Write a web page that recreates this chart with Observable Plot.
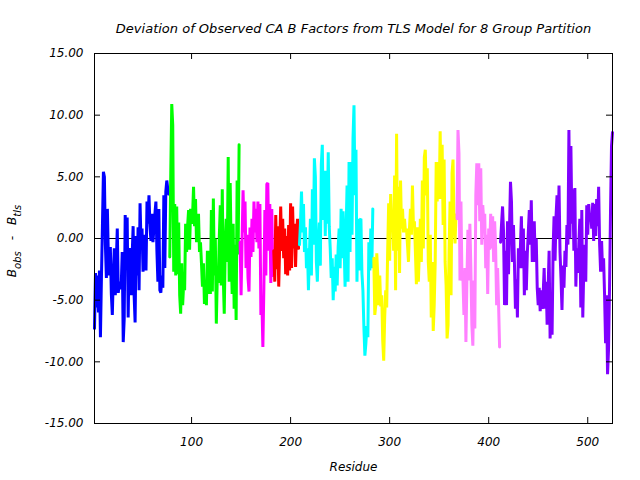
<!DOCTYPE html>
<html><head><meta charset="utf-8">
<script src="https://cdn.jsdelivr.net/npm/d3@7"></script>
<script src="https://cdn.jsdelivr.net/npm/@observablehq/plot@0.6"></script>
<style>body{margin:0;background:#fff}</style>
</head><body><div id="chart"></div>
<script>
const title = "Deviation of Observed CA B Factors from TLS Model for 8 Group Partition";
const xLabel = "Residue";
const xTicks = [100, 200, 300, 400, 500];
const yTicks = [-15, -10, -5, 0, 5, 10, 15];
const groupNames = ["G1", "G2", "G3", "G4", "G5", "G6", "G7", "G8"];
const groupColors = ["#0000ff", "#00ff00", "#ff00ff", "#ff0000", "#00ffff", "#ffff00", "#ff80ff", "#8000ff"];
const groupStarts = [2, 78, 149, 183, 209, 284, 368, 412];

const group1 = [-7.3,-2.8,-5.6,-3.0,-6.0,-2.6,-8.0,-3.2,1.0,5.4,
 5.0,-0.5,-3.2,2.4,-1.5,-3.0,-0.7,-4.5,-6.2,-3.0,
 -0.8,-4.6,-2.0,0.8,-4.4,-3.5,-4.1,-3.8,-1.1,-8.4,
 -6.5,1.9,-2.0,1.7,-6.4,-1.0,-0.8,-4.6,-1.5,1.0,
 -4.6,-6.8,0.2,-3.0,0.9,-4.2,2.85,-0.5,0.8,-2.7,
 -0.2,0.3,-2.6,3.0,1.2,3.5,1.0,-0.2,2.0,-0.3,
 0.8,2.0,3.0,-1.0,-3.5,2.4,-4.2,-4.4,-3.0,-4.0,
 3.5,-2.4,3.8,4.7,4.0,3.6];
const group2 = [-1.5,5.3,10.9,9.2,-2.7,2.8,-3.0,2.6,-2.9,1.3,
 -4.6,-6.1,-2.0,-5.4,-3.7,-4.2,1.2,-1.1,1.0,2.3,
 -0.9,2.4,1.2,1.8,4.2,1.0,3.2,-0.3,1.5,2.0,
 -1.1,-0.3,-2.0,-3.9,-2.0,-5.3,-3.8,-5.4,-1.0,-4.5,
 -1.0,-4.5,2.3,-4.3,3.25,-3.0,0.0,-6.9,-3.0,-3.6,
 0.1,2.7,-3.8,4.0,-3.1,-6.1,-0.5,1.6,-1.9,6.6,
 -3.5,4.5,-1.1,-4.5,1.2,-5.7,-0.5,-6.6,4.7,-1.3,
 7.6];
const group3 = [-0.3,-4.6,-0.2,3.9,0.5,3.0,-2.4,0.3,-3.2,-4.3,
 0.9,-1.5,1.6,-1.1,3.0,0.5,2.4,-0.3,3.0,-0.8,
 2.8,-6.2,-5.0,-8.8,-4.0,2.3,-3.0,4.4,4.5,-1.0,
 2.8,-3.6,2.4,-3.0];
const group4 = [-1.0,-3.5,1.9,-2.5,1.0,-3.9,-0.5,2.6,-1.0,1.6,
 -1.6,0.8,-2.9,0.2,-3.0,1.1,-2.6,2.85,-2.4,2.6,
 -0.8,1.2,-2.3,0.5,1.6,-0.8];
const group5 = [-0.5,1.3,3.8,0.5,2.8,-1.1,0.9,-2.4,-0.8,-4.2,
 -1.3,1.6,-3.0,4.0,-0.5,6.5,5.0,-1.9,-3.5,-0.5,
 1.3,-2.2,6.0,7.6,1.5,5.5,0.2,5.5,1.2,7.0,
 1.0,-0.8,-3.2,-1.6,-5.0,-2.3,-4.3,-1.3,-3.8,-0.7,
 0.8,-2.4,2.4,-1.6,2.2,-0.5,-3.9,0.5,4.3,-3.5,
 6.2,-1.1,6.2,0.3,8.1,10.8,3.5,7.2,-3.5,1.6,
 -2.6,1.5,1.6,-2.8,-4.2,-7.2,-9.5,-8.5,-7.1,-8.0,
 -0.3,-2.6,0.8,-2.4,2.4];
const group6 = [-1.6,-6.2,-5.4,-1.2,-3.0,-5.4,-3.0,-5.5,-4.6,-8.3,
 -9.9,-6.4,-4.2,-5.6,-1.0,2.85,-1.8,3.6,1.0,2.0,
 -1.0,5.1,-4.2,8.5,-1.0,4.2,-2.8,4.7,0.8,2.4,
 0.5,1.6,0.5,0.8,-0.5,-1.9,0.8,2.4,0.3,4.3,
 1.1,1.4,-1.1,-3.7,0.9,-3.5,-1.1,1.6,-1.9,4.7,
 -0.8,6.6,7.2,3.5,5.7,-1.9,-3.5,0.3,-6.4,-1.9,
 -7.5,-5.4,-1.9,6.2,3.0,6.2,3.2,8.7,3.2,7.6,
 1.1,6.4,-1.9,-3.8,-8.1,-7.0,-1.0,3.0,-4.6,5.3,
 6.4,1.1,-0.4,1.9];
const group7 = [1.6,8.8,6.9,-3.4,3.0,-3.3,-3.3,-6.2,-2.4,-8.4,
 -3.5,0.7,-3.4,1.2,-2.4,-7.0,-8.7,-3.4,-7.3,3.5,
 6.1,2.7,6.1,1.4,5.7,-0.5,2.7,1.4,2.0,-2.4,
 0.3,-4.5,0.8,-0.9,2.0,-0.8,1.8,-1.9,1.4,-0.7,
 -5.4,-2.4,-5.4,-8.8];
const group8 = [-0.3,1.2,2.6,0.5,-5.4,-1.0,-5.4,1.4,-2.9,0.8,
 4.6,3.0,-1.9,1.1,-2.0,-5.7,-3.3,-6.4,-0.8,-2.4,
 -0.8,1.8,-2.4,0.8,-4.6,-1.0,-4.2,-1.2,0.5,2.3,
 -0.5,3.1,-1.9,1.0,1.4,-1.9,0.0,-4.0,-5.4,-4.0,
 -5.9,-4.2,-5.7,-4.5,-2.4,-5.7,
 -3.5,-7.0,-4.0,-1.0,-8.1,-4.5,-7.8,-1.0,1.8,-1.8,
 1.8,3.5,0.0,4.3,-1.1,-3.2,-5.8,-2.2,-4.0,-1.0,
 -2.3,1.1,-0.5,8.8,0.0,7.5,1.2,4.0,-1.0,4.1,
 -3.9,-0.8,-2.8,-0.5,1.6,-5.6,2.3,-6.4,-2.5,-0.5,
 -3.5,2.7,0.3,2.8,1.4,2.0,0.8,2.9,-0.2,2.8,
 0.2,3.2,1.0,4.2,-0.5,-2.7,-0.2,-2.7,-1.6,-4.6,
 -8.5,-4.6,-11.0,-9.0,-4.0,2.2,7.5,8.6];

const groupValues = [group1, group2, group3, group4, group5, group6, group7, group8];
const rows = groupValues.flatMap((vals, g) =>
  vals.map((v, i) => ({residue: groupStarts[g] + i, dev: v, group: groupNames[g]})));

const W = 640, H = 480, mL = 94, mR = 28, mT = 53, mB = 57;
const innerW = W - mL - mR, innerH = H - mT - mB, tick = 6;

const chart = Plot.plot({
  width: W, height: H,
  marginLeft: mL, marginRight: mR, marginTop: mT, marginBottom: mB,
  style: {fontFamily: "DejaVu Sans", fontSize: "12px", fontStyle: "italic", background: "#fff", color: "#000"},
  x: {domain: [2, 525]},
  y: {domain: [-15, 15]},
  color: {domain: groupNames, range: groupColors},
  marks: [
    Plot.ruleY([0], {stroke: "#000", strokeWidth: 1}),
    Plot.line(rows, {x: "residue", y: "dev", z: "group", stroke: "group", strokeWidth: 3, strokeLinejoin: "miter", strokeMiterlimit: 2}),
    Plot.frame({stroke: "#000", strokeWidth: 1}),
    Plot.tickX(xTicks, {x: d => d, stroke: "#000", insetTop: innerH - tick}),
    Plot.tickX(xTicks, {x: d => d, stroke: "#000", insetBottom: innerH - tick}),
    Plot.tickY(yTicks, {y: d => d, stroke: "#000", insetRight: innerW - tick}),
    Plot.tickY(yTicks, {y: d => d, stroke: "#000", insetLeft: innerW - tick}),
    Plot.axisX(xTicks, {tickSize: 0, tickPadding: 14, tickFormat: d => String(d), label: null, fill: "#000"}),
    Plot.axisY(yTicks, {tickSize: 0, tickPadding: 11, tickFormat: d => d.toFixed(2), label: null, fill: "#000"}),
    Plot.text([title], {frameAnchor: "top", dy: -30, fontSize: 13, fill: "#000"}),
    Plot.text([xLabel], {frameAnchor: "bottom", dy: 47, fill: "#000"})
  ]
});

const svg = d3.select(chart);
const yl = svg.append("text")
  .attr("transform", "translate(16,241) rotate(-90)")
  .attr("text-anchor", "middle")
  .attr("fill", "#000")
  .style("font-family", "DejaVu Sans").style("font-style", "italic").style("font-size", "12px");
yl.append("tspan").text("B");
yl.append("tspan").attr("dy", 5).style("font-size", "10px").text("obs");
yl.append("tspan").attr("dy", -5).attr("dx", 11).text("-");
yl.append("tspan").attr("dx", 11).text("B");
yl.append("tspan").attr("dy", 5).style("font-size", "10px").text("tls");

document.getElementById("chart").appendChild(chart);
</script>
</body></html>
